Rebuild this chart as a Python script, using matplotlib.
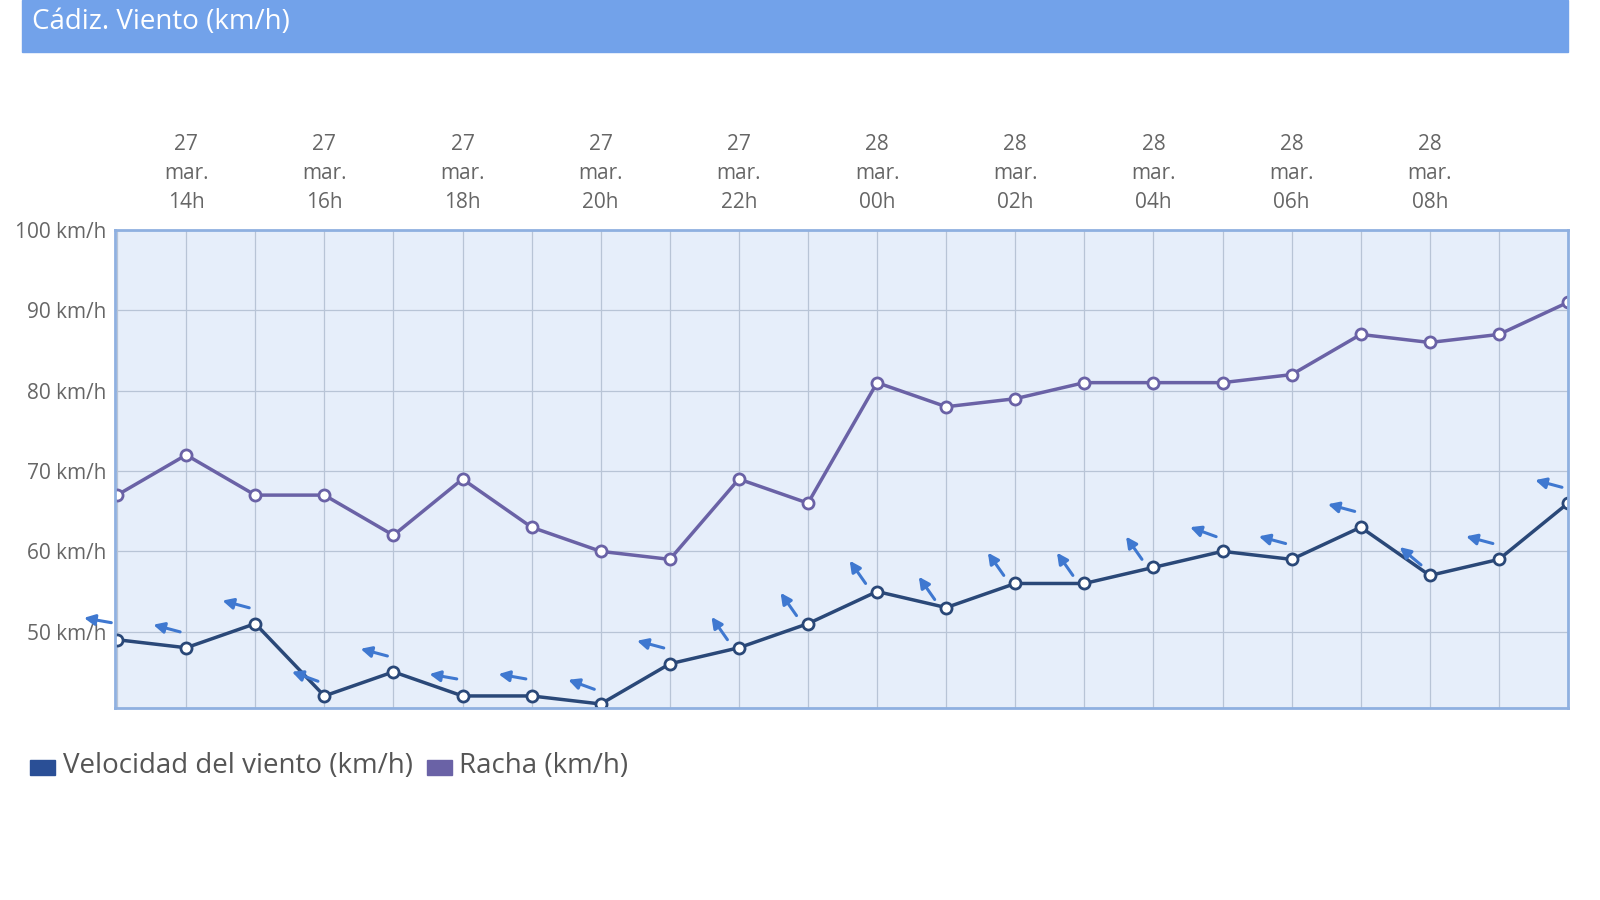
import numpy as np
import matplotlib.pyplot as plt
from matplotlib.patches import Rectangle
from matplotlib.transforms import offset_copy

hours = np.arange(13, 35)  # hours since 27 mar 00h
wind = [49, 48, 51, 42, 45, 42, 42, 41, 46, 48, 51, 55, 53, 56, 56, 58, 60, 59, 63, 57, 59, 66]
gust = [67, 72, 67, 67, 62, 69, 63, 60, 59, 69, 66, 81, 78, 79, 81, 81, 81, 82, 87, 86, 87, 91]
# arrow direction (degrees, 180 = pointing left)
arrow_dir = [170, 165, 165, 160, 165, 170, 170, 160, 165, 125, 125, 125, 125, 125, 125, 125, 160, 165, 165, 140, 165, 165]

tick_hours = np.arange(14, 33, 2)
tick_labels = ["27\nmar.\n14h", "27\nmar.\n16h", "27\nmar.\n18h", "27\nmar.\n20h", "27\nmar.\n22h",
               "28\nmar.\n00h", "28\nmar.\n02h", "28\nmar.\n04h", "28\nmar.\n06h", "28\nmar.\n08h"]

plt.rcParams['font.family'] = ['Open Sans', 'DejaVu Sans']
fig = plt.figure(figsize=(16, 9), dpi=100)
fig.patches.append(Rectangle((22/1600, 1-52/900), (1568-22)/1600, 52/900,
                             transform=fig.transFigure, color='#72a2ea', zorder=0))
fig.text(32/1600, 1-22/900, "Cádiz. Viento (km/h)", color='white', fontsize=20, va='center')

ax = fig.add_axes([115/1600, 1-708/900, (1568-115)/1600, (708-230)/900])
ax.set_facecolor('#e6eefa')
ax.set_xlim(12.97, 33.64)
ax.set_ylim(40.5, 100)
ax.set_xticks(hours, minor=True)
ax.set_xticks(tick_hours)
ax.set_xticklabels(tick_labels, linespacing=1.5)
ax.xaxis.tick_top()
ax.tick_params(axis='x', which='both', length=0, pad=12, labelsize=15, colors='#666666')
ax.set_yticks(np.arange(50, 101, 10))
ax.set_yticklabels([f"{v} km/h" for v in range(50, 101, 10)])
ax.tick_params(axis='y', length=0, pad=6, labelsize=15, colors='#666666')
ax.grid(True, which='both', color='#b8c4d6', lw=0.9)
for s in ax.spines.values():
    s.set_color('#8fb0e0'); s.set_linewidth(2)

ax.plot(hours, gust, color='#6a62a6', lw=2.5, marker='o', ms=8, mfc='white', mec='#6a62a6', mew=2)
ax.plot(hours, wind, color='#2a4878', lw=2.5, marker='o', ms=8, mfc='white', mec='#2a4878', mew=2)

# wind direction arrows, placed up-left of each point
for h, w, d in zip(hours, wind, arrow_dir):
    a = np.radians(d)
    cx, cy = -14, 14
    dx, dy = 10 * np.cos(a), 10 * np.sin(a)
    ax.annotate("", xy=(h, w), xytext=(h, w),
                xycoords=offset_copy(ax.transData, fig=fig, x=cx + dx, y=cy + dy, units='points'),
                textcoords=offset_copy(ax.transData, fig=fig, x=cx - dx, y=cy - dy, units='points'),
                arrowprops=dict(arrowstyle='-|>', color='#3f78d0', lw=2.2, mutation_scale=16,
                                shrinkA=0, shrinkB=0),
                annotation_clip=False)

fig.patches.append(Rectangle((30/1600, 1-775/900), 25/1600, 15/900, transform=fig.transFigure, color='#2a4f96'))
fig.text(63/1600, 1-766/900, "Velocidad del viento (km/h)", fontsize=20, color='#555555', va='center')
fig.patches.append(Rectangle((427/1600, 1-775/900), 25/1600, 15/900, transform=fig.transFigure, color='#6a62a6'))
fig.text(459/1600, 1-766/900, "Racha (km/h)", fontsize=20, color='#555555', va='center')

fig.savefig("out.png", dpi=100)
